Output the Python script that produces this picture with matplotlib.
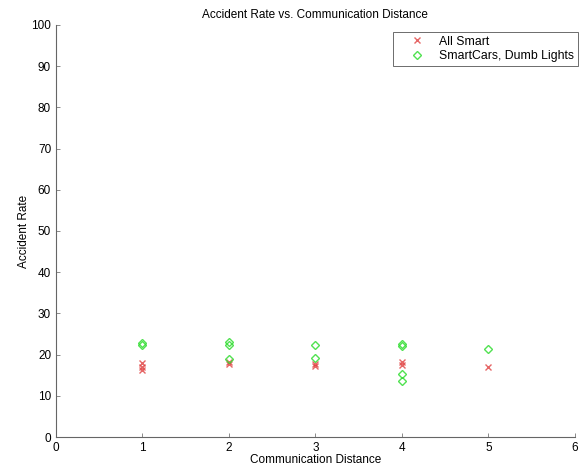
import matplotlib
matplotlib.use('Agg')
import matplotlib.pyplot as plt

plt.rcParams['font.family'] = ['Liberation Sans', 'DejaVu Sans']
plt.rcParams['font.size'] = 8.5

# Accident rate per communication distance (several runs per distance)
all_smart_x = [1, 1, 1, 2, 2, 3, 3, 4, 4, 5]
all_smart_y = [18.0, 17.0, 16.2, 18.2, 17.8, 17.8, 17.2, 18.2, 17.6, 17.0]

dumb_lights_x = [1, 1, 2, 2, 2, 3, 3, 4, 4, 4, 4, 5]
dumb_lights_y = [22.8, 22.3, 23.0, 22.4, 19.0, 22.3, 19.2, 22.5, 22.0, 15.4, 13.6, 21.4]

fig = plt.figure(figsize=(5.85, 4.69), dpi=100)
ax = fig.add_axes([0.0957, 0.068, 0.887, 0.879])

ax.plot(all_smart_x, all_smart_y, 'x', color='#e04040', markersize=5,
        markeredgewidth=1.0, alpha=0.8, label='All Smart')
ax.plot(dumb_lights_x, dumb_lights_y, 'D', color='#33dd33', markersize=4.5,
        markerfacecolor='none', markeredgewidth=1.0, alpha=0.85,
        label='SmartCars, Dumb Lights')

ax.set_xlim(0, 6)
ax.set_ylim(0, 100)
ax.set_xticks(range(0, 7))
ax.set_yticks(range(0, 101, 10))
ax.tick_params(direction='in', length=3, width=0.6, labelsize=8.5,
               color='#777777')
for s in ax.spines.values():
    s.set_linewidth(0.8)
    s.set_color('#666666')
ax.spines['top'].set_visible(False)
ax.spines['right'].set_visible(False)

ax.set_title('Accident Rate vs. Communication Distance', fontsize=8.5, pad=5)
ax.set_xlabel('Communication Distance', fontsize=8.5, labelpad=0)
ax.set_ylabel('Accident Rate', fontsize=8.5, labelpad=1)

leg = ax.legend(loc='upper right', fontsize=8.8, fancybox=False, framealpha=1,
                edgecolor='#555555', borderpad=0.3, handletextpad=0.2,
                handlelength=3.3, labelspacing=0.2, borderaxespad=0,
                bbox_to_anchor=(1.006, 0.983))
leg.get_frame().set_linewidth(0.6)

fig.savefig('out.png', dpi=100)
